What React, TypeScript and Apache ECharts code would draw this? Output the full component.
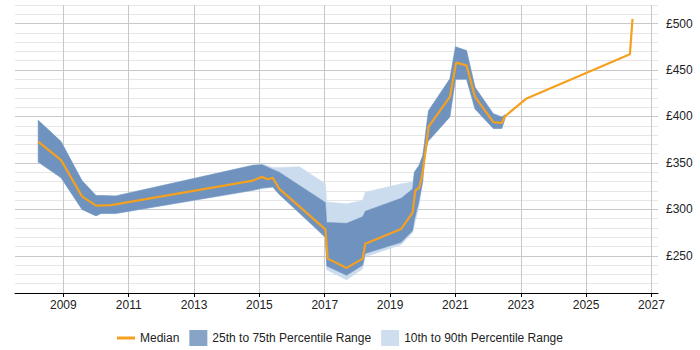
import React, { useEffect, useRef } from "react";
import * as echarts from "echarts";

const yearTicks = [2009, 2011, 2013, 2015, 2017, 2019, 2021, 2023, 2025, 2027];

const medianDates = [2008.23, 2008.93, 2009.57, 2010.0, 2010.46, 2014.8, 2015.08, 2015.25, 2015.41, 2015.61, 2017.02, 2017.09, 2017.67, 2018.16, 2018.24, 2019.34, 2019.69, 2019.77, 2019.9, 2020.0, 2020.1, 2020.18, 2020.83, 2021.02, 2021.34, 2021.6, 2022.16, 2022.42, 2022.51, 2023.16, 2026.34, 2026.42];
const medianValues = [373, 353, 314, 304, 304.5, 331, 335, 332.5, 334, 322, 278.5, 247, 237, 247, 263, 279, 296.5, 320, 324, 340, 367, 389, 421, 458, 455, 421, 394, 393, 400, 419, 467, 505];

const iqrDates = [2008.23, 2008.93, 2009.57, 2010.0, 2010.15, 2010.6, 2014.8, 2015.08, 2015.41, 2015.61, 2017.02, 2017.06, 2017.67, 2018.16, 2018.24, 2019.34, 2019.69, 2019.74, 2019.88, 2020.0, 2020.05, 2020.15, 2020.18, 2020.83, 2021.0, 2021.34, 2021.6, 2022.16, 2022.42, 2022.52];
const p25Values = [351, 334, 300, 293, 295.5, 295.5, 320.5, 323, 324, 316, 270, 239, 229, 240, 252.5, 264.5, 277, 288, 308, 330, 354, 372, 374, 399.5, 440, 440, 408, 387, 387, 398];
const p75Values = [396, 373, 331, 315, 315, 314.5, 347.5, 348, 343, 340, 307.5, 286, 285, 292, 298, 312, 322, 340, 347, 358, 371, 400, 406.5, 440.5, 475, 471, 431.5, 403, 399.5, 402];

const decileDates = [2008.23, 2008.93, 2009.57, 2010.0, 2010.15, 2010.6, 2014.8, 2015.08, 2015.41, 2015.61, 2016.23, 2017.02, 2017.06, 2017.67, 2018.16, 2018.24, 2019.34, 2019.69, 2019.77, 2019.88, 2020.0, 2020.05, 2020.15, 2020.18, 2020.83, 2021.0, 2021.34, 2021.6, 2022.16, 2022.42, 2022.52];
const p10Values = [351, 334, 300, 293, 295.5, 295.5, 320.5, 322, 324, 316, 298, 269, 235, 224, 236, 249, 262, 275, 287, 302, 330, 354, 372, 374, 399.5, 440, 440, 408, 387, 387, 398];
const p90Values = [396, 373, 331, 315, 315, 314.5, 347.5, 349, 345, 345, 346, 327.5, 308, 306, 309.5, 318.5, 327.5, 329.5, 341, 347, 358, 371, 400, 406.5, 440.5, 475, 471, 431.5, 403, 399.5, 402];

const SERIES_MEDIAN = "Median";
const SERIES_IQR = "25th to 75th Percentile Range";
const SERIES_DECILE = "10th to 90th Percentile Range";

const MEDIAN_COLOR = "#f5a01f";
const IQR_COLOR = "#6f93be";
const DECILE_COLOR = "#cbdcee";

function bandRenderer(dates: number[], lo: number[], hi: number[], color: string) {
  return (params: any, api: any) => {
    if (params.dataIndex !== 0) return null;
    const upper = dates.map((d, i) => api.coord([d, hi[i]]));
    const lower = dates.map((d, i) => api.coord([d, lo[i]])).reverse();
    return {
      type: "polygon",
      shape: { points: upper.concat(lower) },
      style: { fill: color, stroke: color, lineWidth: 0.5 },
    };
  };
}

export default function App() {
  const ref = useRef<HTMLDivElement>(null);

  useEffect(() => {
    if (!ref.current) return;
    const chart = echarts.init(ref.current, undefined, { renderer: "svg" });
    const font = "'Liberation Sans', Arial, sans-serif";
    const major = "#c8c8c8";
    const minor = "#e6e6e6";
    chart.setOption({
      animation: false,
      grid: { left: 15, right: 42, top: 5, bottom: 57 },
      legend: {
        left: 112,
        top: 325,
        itemWidth: 18,
        itemHeight: 16,
        itemGap: 10,
        symbolKeepAspect: true,
        textStyle: { fontFamily: font, fontSize: 12, color: "#222" },
        data: [
          { name: SERIES_MEDIAN, icon: "path://M0,0 L18,0 L18,3 L0,3 Z", itemStyle: { color: MEDIAN_COLOR } },
          { name: SERIES_IQR, icon: "rect", itemStyle: { color: "#87a3c5" } },
          { name: SERIES_DECILE, icon: "rect", itemStyle: { color: "#cfdeef" } },
        ],
      },
      xAxis: {
        type: "value",
        min: 2007.52,
        max: 2027.2,
        axisLine: { show: true, onZero: false, lineStyle: { color: "#000", width: 1 } },
        axisTick: { show: true, length: 4, customValues: yearTicks, lineStyle: { color: "#000" } },
        axisLabel: {
          customValues: yearTicks,
          formatter: (v: number) => String(v),
          fontFamily: font,
          fontSize: 12,
          color: "#222",
          margin: 6,
        },
        splitLine: { show: true, lineStyle: { color: major, width: 1 } },
      },
      yAxis: {
        type: "value",
        position: "right",
        min: 210,
        max: 520,
        interval: 10,
        axisLine: { show: false },
        axisTick: { show: false },
        axisLabel: {
          formatter: (v: number) => (v % 50 === 0 ? "£" + v : ""),
          fontFamily: font,
          fontSize: 12,
          color: "#222",
          margin: 8,
        },
        splitLine: { show: true, lineStyle: { color: [minor, minor, minor, minor, major], width: 1 } },
      },
      series: [
        {
          type: "custom",
          name: SERIES_DECILE,
          z: 1,
          silent: true,
          itemStyle: { color: DECILE_COLOR },
          renderItem: bandRenderer(decileDates, p10Values, p90Values, DECILE_COLOR),
          encode: { x: 0, y: [1, 2] },
          data: decileDates.map((d, i) => [d, p10Values[i], p90Values[i]]),
        },
        {
          type: "custom",
          name: SERIES_IQR,
          z: 2,
          silent: true,
          itemStyle: { color: IQR_COLOR },
          renderItem: bandRenderer(iqrDates, p25Values, p75Values, IQR_COLOR),
          encode: { x: 0, y: [1, 2] },
          data: iqrDates.map((d, i) => [d, p25Values[i], p75Values[i]]),
        },
        {
          type: "line",
          name: SERIES_MEDIAN,
          z: 3,
          symbol: "none",
          showSymbol: false,
          lineStyle: { color: MEDIAN_COLOR, width: 2.2 },
          itemStyle: { color: MEDIAN_COLOR },
          data: medianDates.map((d, i) => [d, medianValues[i]]),
        },
      ],
    });
    return () => chart.dispose();
  }, []);

  return <div ref={ref} style={{ position: "absolute", left: 0, top: 0, width: 700, height: 350 }} />;
}
